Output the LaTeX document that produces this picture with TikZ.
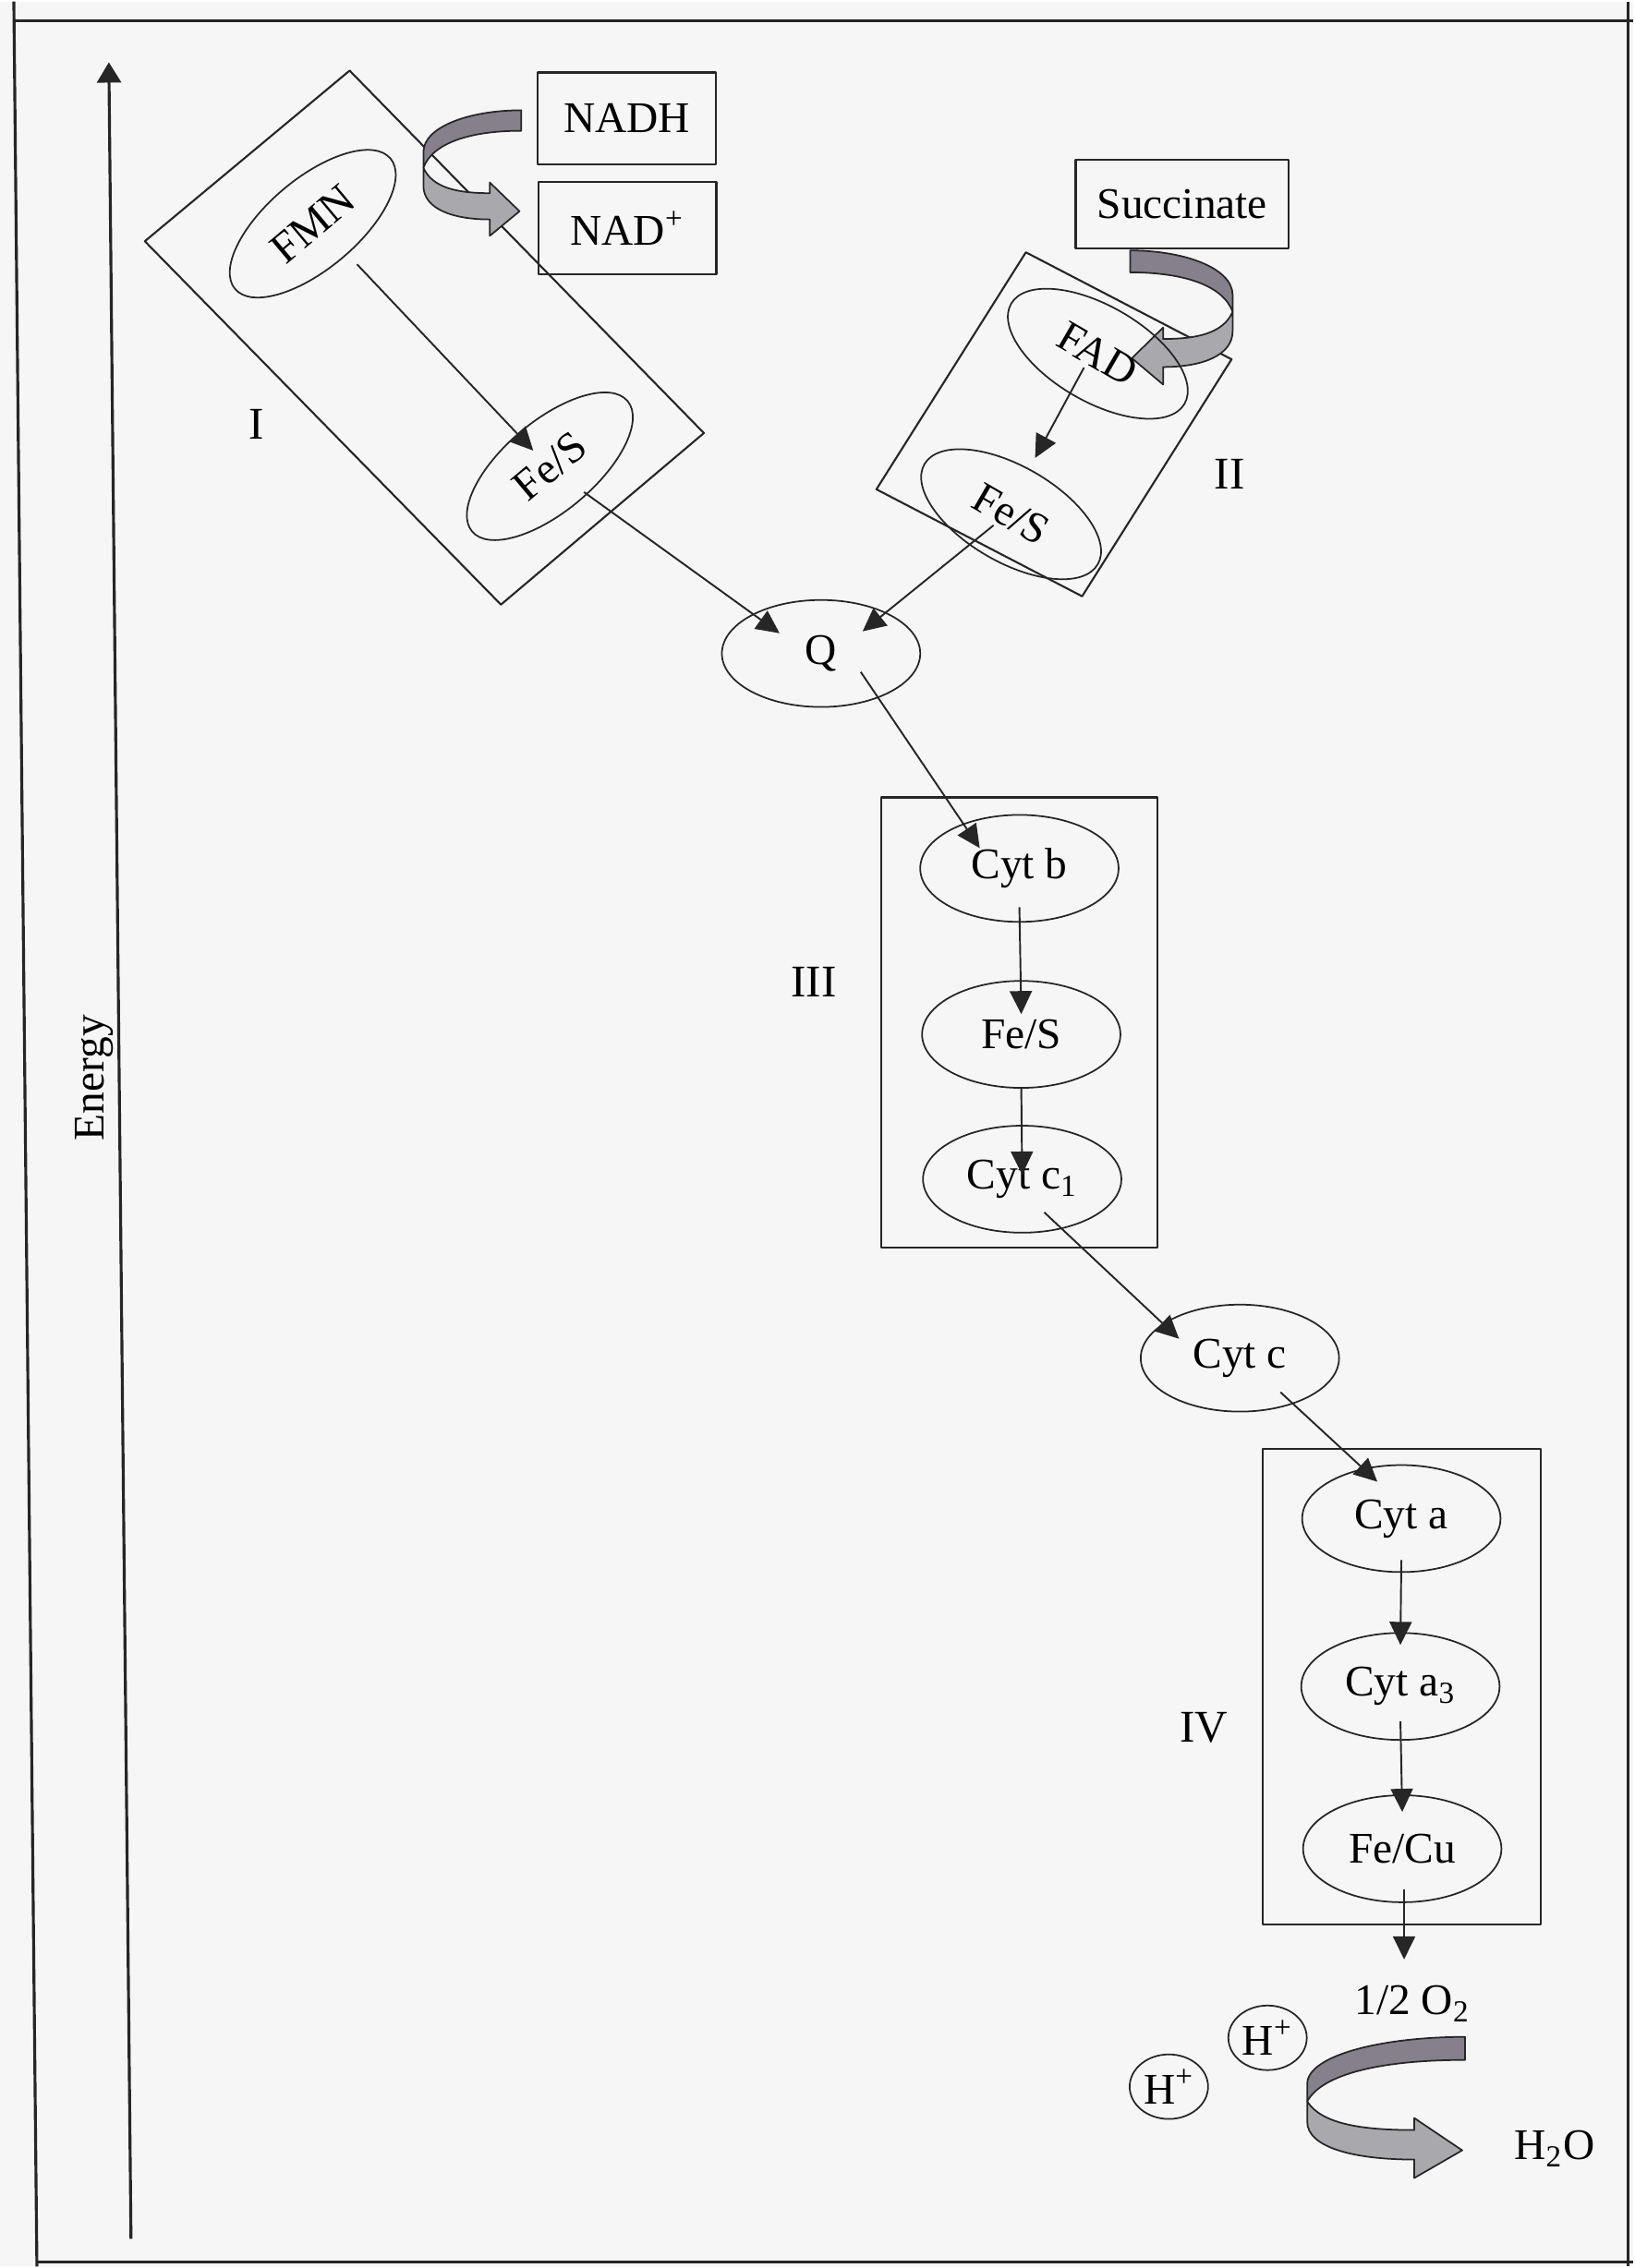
\documentclass[tikz,border=0pt]{standalone}
\usepackage{fontspec}
\setmainfont{Liberation Serif}
\usetikzlibrary{arrows.meta,calc,shapes.geometric}
\definecolor{paper}{HTML}{F6F6F6}
\definecolor{ink}{HTML}{262626}
\definecolor{ribdark}{HTML}{85808C}
\definecolor{riblight}{HTML}{A9A9AD}

% folded ribbon arrow, drawn from its top right corner
\newcommand{\ribbon}[1]{%
  \begin{scope}[#1]
    \filldraw[ribdark,draw=ink,line width=0.5pt]
      (0,0) .. controls (-0.9,0) and (-1.71,-0.2) .. (-1.71,-0.51)
      -- (-1.71,-0.70) .. controls (-1.55,-0.40) and (-0.9,-0.25) .. (0,-0.25) -- cycle;
    \filldraw[riblight,draw=ink,line width=0.5pt]
      (-1.71,-0.70) .. controls (-1.55,-0.95) and (-1.1,-1.01) .. (-0.55,-1.01)
      -- (-0.55,-0.88) -- (-0.03,-1.23) -- (-0.55,-1.53) -- (-0.55,-1.33)
      .. controls (-1.2,-1.33) and (-1.71,-1.20) .. (-1.71,-0.92) -- cycle;
  \end{scope}}

\begin{document}
\begin{tikzpicture}[line join=round,font=\fontsize{13.5}{16}\selectfont,
  carrier/.style={draw=ink,ellipse,minimum width=2.15cm,minimum height=1.16cm,inner sep=0pt,line width=0.5pt},
  tiltI/.style={carrier,minimum width=2.2cm,minimum height=0.98cm,rotate=40},
  tiltII/.style={carrier,minimum width=2.17cm,minimum height=1.04cm,rotate=-30},
  substrate/.style={draw=ink,line width=0.6pt,minimum height=1cm,inner sep=0pt},
  proton/.style={draw=ink,ellipse,minimum width=0.85cm,minimum height=0.7cm,inner sep=0pt,line width=0.5pt},
  complex/.style={draw=ink,line width=0.6pt},
  roman/.style={font=\fontsize{14}{16}\selectfont},
  flow/.style={draw=ink,line width=0.55pt,-{Triangle[length=0.25cm,width=0.24cm]}}]
  \fill[paper] (0,0) rectangle (17.7,24.56);

  % page frame and energy axis
  \draw[ink,line width=0.9pt] (0.15,24.56) -- (0.40,0);
  \draw[ink,line width=0.9pt] (0.15,24.35) -- (17.7,24.35);
  \draw[ink,line width=0.9pt] (17.65,24.56) -- (17.65,0);
  \draw[ink,line width=0.9pt] (0.40,0.05) -- (17.7,0.05);
  \draw[ink,line width=0.9pt,-{Triangle[length=0.22cm,width=0.26cm]}] (1.42,0.30) -- (1.18,23.90);
  \node[rotate=90] (energy) at (1.02,12.89) {Energy};

  % the four complexes
  \draw[complex] (3.79,23.81) -- (7.63,19.88) -- (5.43,18.02) -- (1.57,21.96) -- cycle;
  \draw[complex] (11.12,21.84) -- (13.35,20.68) -- (11.73,18.11) -- (9.50,19.27) -- cycle;
  \draw[complex] (9.55,11.05) rectangle (12.55,15.93);
  \draw[complex] (13.69,3.71) rectangle (16.70,8.87);
  \node[roman] (labI) at (2.78,19.98) {I};
  \node[roman] (labII) at (13.33,19.43) {II};
  \node[roman] (labIII) at (8.82,13.93) {III};
  \node[roman] (labIV) at (13.05,5.84) {IV};

  % substrates and their turning arrows
  \node[substrate,minimum width=1.93cm] (nadh) at (6.795,23.29) {NADH};
  \node[substrate,minimum width=1.93cm] (nad) at (6.80,22.10) {NAD\textsuperscript{+}};
  \node[substrate,minimum width=2.31cm,minimum height=0.96cm] (succ) at (12.815,22.36) {Succinate};
  \ribbon{shift={(5.65,23.38)},xscale=0.62,yscale=0.89}
  \ribbon{shift={(12.25,21.86)},xscale=-0.65,yscale=0.95}
  \ribbon{shift={(15.88,2.49)}}

  % carriers
  \node[tiltI] (fmn) at (3.39,22.15) {FMN};
  \node[tiltI] (fesI) at (5.96,19.52) {Fe/S};
  \node[tiltII] (fad) at (11.90,20.74) {FAD};
  \node[tiltII] (fesII) at (10.96,19.00) {Fe/S};
  \node[carrier] (q) at (8.90,17.49) {Q};
  \node[carrier] (cytb) at (11.05,15.16) {Cyt b};
  \node[carrier] (fesIII) at (11.07,13.36) {Fe/S};
  \node[carrier] (cytcI) at (11.08,11.79) {Cyt c\textsubscript{1}};
  \node[carrier] (cytc) at (13.44,9.85) {Cyt c};
  \node[carrier] (cyta) at (15.19,8.11) {Cyt a};
  \node[carrier] (cytaIII) at (15.18,6.29) {Cyt a\textsubscript{3}};
  \node[carrier] (fecu) at (15.20,4.53) {Fe/Cu};
  \node[anchor=base] (oxygen) at (15.31,2.73) {1/2 O\textsubscript{2}};
  \node[proton] (hA) at (13.74,2.48) {H\textsuperscript{+}};
  \node[proton] (hB) at (12.67,1.95) {H\textsuperscript{+}};
  \node (water) at (16.85,1.28) {H\textsubscript{2}O};

  % electron flow
  \draw[flow] ($(fmn)+(0.48,-0.44)$) -- ($(fesI)+(-0.18,0.17)$);
  \draw[flow] ($(fesI)+(0.37,-0.28)$) -- ($(q)+(-0.45,0.22)$);
  \draw[flow] ($(fad)+(-0.15,-0.15)$) -- ($(fesII)+(0.26,0.61)$);
  \draw[flow] ($(fesII)+(-0.19,-0.12)$) -- ($(q)+(0.45,0.24)$);
  \draw[flow] ($(q)+(0.43,-0.20)$) -- ($(cytb)+(-0.43,0.22)$);
  \draw[flow] ($(cytb)+(0,-0.42)$) -- ($(fesIII)+(0,0.22)$);
  \draw[flow] ($(fesIII)+(0,-0.58)$) -- ($(cytcI)+(0,0.05)$);
  \draw[flow] ($(cytcI)+(0.24,-0.36)$) -- ($(cytc)+(-0.66,0.21)$);
  \draw[flow] ($(cytc)+(0.44,-0.37)$) -- ($(cyta)+(-0.26,0.40)$);
  \draw[flow] ($(cyta)+(0,-0.45)$) -- ($(cytaIII)+(0,0.45)$);
  \draw[flow] ($(cytaIII)+(0,-0.38)$) -- ($(fecu)+(0,0.40)$);
  \draw[flow] ($(fecu)+(0.02,-0.44)$) -- ($(oxygen.base)+(-0.09,0.60)$);
\end{tikzpicture}
\end{document}
